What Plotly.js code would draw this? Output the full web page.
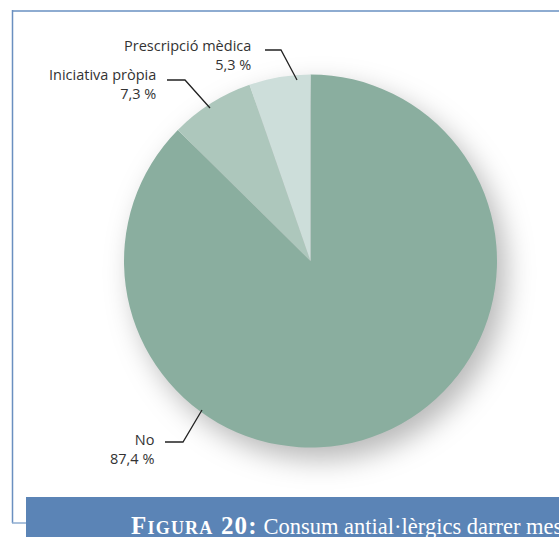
<!DOCTYPE html>
<html>
<head>
<meta charset="utf-8">
<script src="https://cdn.plot.ly/plotly-3.0.1.min.js"></script>
<style>
  html, body { margin: 0; padding: 0; background: #fff; }
  #chart { width: 559px; height: 537px; }
  .pielayer .trace { filter: drop-shadow(9px 12px 14px rgba(0,0,0,0.28)); }
</style>
</head>
<body>
<div id="chart"></div>
<script>
// ---- data ----
const categories = ['No', 'Iniciativa pròpia', 'Prescripció mèdica'];
const values = [87.4, 7.3, 5.3];
const valueLabels = ['87,4 %', '7,3 %', '5,3 %'];
const colors = ['#8aae9f', '#adc7bc', '#cddeda'];
const figureTitle = 'Figura 20:';
const figureCaption = 'Consum antial·lèrgics darrer mes';

// ---- layout helpers (pixel -> paper, margins are zero) ----
const W = 559, H = 537;
const px = x => x / W;
const py = y => 1 - y / H;

// label placement (layout only)
const labelPos = [
  { tx: 156, ty: 449, path: [[165, 442], [183, 442], [202, 410]] },
  { tx: 158, ty: 84, path: [[167, 80], [185, 80], [210, 108]] },
  { tx: 253, ty: 55, path: [[265, 50], [281, 50], [297, 80]] }
];

const annotations = categories.map((c, i) => ({
  xref: 'paper', yref: 'paper',
  x: px(labelPos[i].tx), y: py(labelPos[i].ty),
  xanchor: 'right', yanchor: 'middle', align: 'right',
  showarrow: false,
  text: c + '<br>' + valueLabels[i],
  font: { family: '"Open Sans", Lato, sans-serif', size: 14.5, color: '#333333' }
}));

annotations.push({
  xref: 'paper', yref: 'paper',
  x: px(129), y: py(525),
  xanchor: 'left', yanchor: 'middle', align: 'left',
  showarrow: false,
  text: '<span style="font-variant:small-caps;font-weight:bold;letter-spacing:1.2px;font-size:25px">' + figureTitle + '</span> ' + figureCaption,
  font: { family: '"Liberation Serif", "DejaVu Serif", serif', size: 22.5, color: '#ffffff' }
});

const shapes = labelPos.map(l => ({
  type: 'path', xref: 'paper', yref: 'paper',
  path: 'M' + l.path.map(p => px(p[0]) + ',' + py(p[1])).join(' L'),
  line: { color: '#222222', width: 1.3 }
}));

// frame and banner
shapes.push(
  { type: 'line', xref: 'paper', yref: 'paper', x0: px(12), x1: px(560), y0: py(11), y1: py(11), line: { color: '#8eacd1', width: 2 } },
  { type: 'line', xref: 'paper', yref: 'paper', x0: px(12.5), x1: px(12.5), y0: py(10), y1: py(523), line: { color: '#6a8fc0', width: 1.5 } },
  { type: 'line', xref: 'paper', yref: 'paper', x0: px(12), x1: px(27), y0: py(523), y1: py(523), line: { color: '#8eacd1', width: 1.5 } },
  { type: 'rect', xref: 'paper', yref: 'paper', x0: px(26), x1: px(560), y0: py(497), y1: py(538), fillcolor: '#5b84b6', line: { width: 0 }, layer: 'above' }
);

const trace = {
  type: 'pie',
  labels: categories,
  values: values,
  sort: false,
  direction: 'clockwise',
  rotation: 0,
  textinfo: 'none',
  hoverinfo: 'label+percent',
  marker: { colors: colors, line: { width: 0 } },
  domain: { x: [px(124), px(497)], y: [py(448), py(74)] },
  showlegend: false
};

const layout = {
  width: W, height: H,
  margin: { l: 0, r: 0, t: 0, b: 0 },
  paper_bgcolor: '#ffffff',
  showlegend: false,
  shapes: shapes,
  annotations: annotations
};

Plotly.newPlot('chart', [trace], layout, { staticPlot: true });
</script>
</body>
</html>
